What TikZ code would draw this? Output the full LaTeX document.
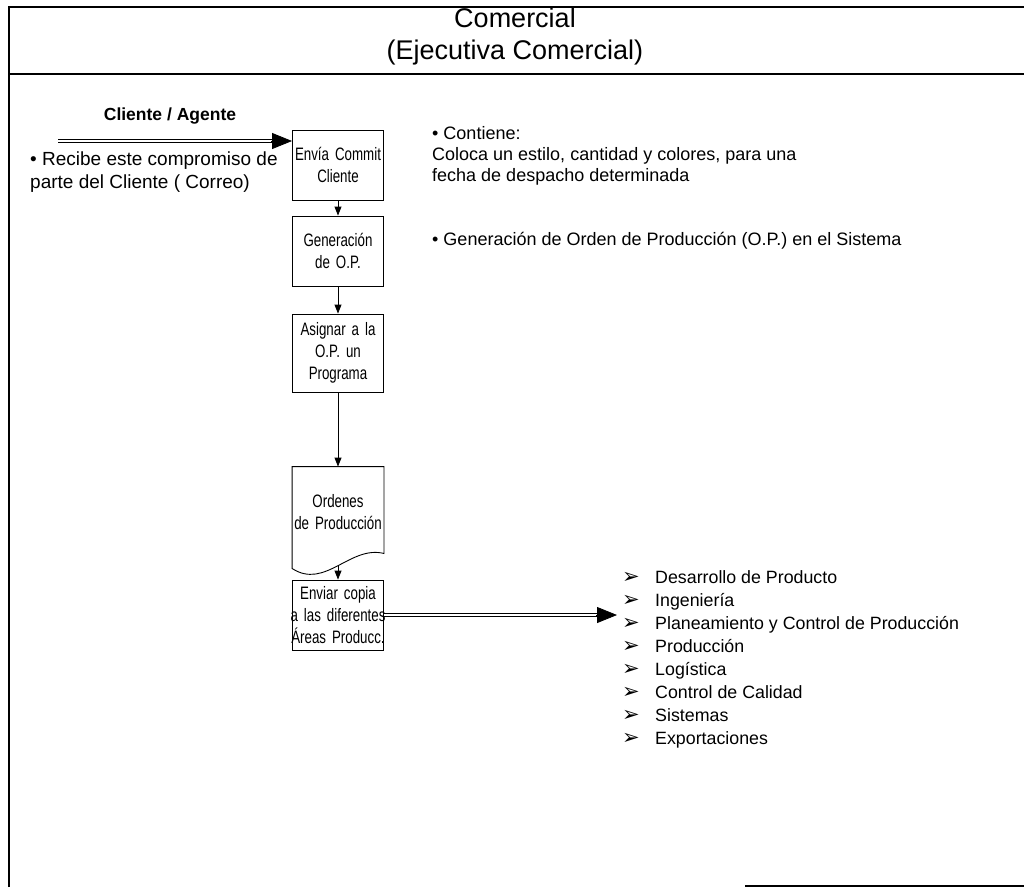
\documentclass[tikz,border=0pt]{standalone}
\usepackage{fontspec}
\setmainfont{Liberation Sans}
\newfontfamily\narrowfont[FakeStretch=0.74]{Liberation Sans}
\newfontfamily\symfont{DejaVu Sans}
\usetikzlibrary{arrows.meta,calc}
\newcommand{\lstitem}[1]{\makebox[33pt][l]{\raisebox{-0.5pt}{\symfont\fontsize{21}{23}\selectfont ➢}}#1}
\begin{document}
\begin{tikzpicture}[x=1pt,y=-1pt,
  box/.style={draw, line width=0.9pt, minimum width=91pt, minimum height=70pt,
    text width=89pt, align=center, font=\narrowfont\fontsize{18}{22}\selectfont, inner sep=0pt},
  txt/.style={align=left, font=\fontsize{18}{21}\selectfont, inner sep=0pt},
  flow/.style={line width=0.9pt, -{Triangle[length=9pt,width=7pt]}},
  dbl/.style={double, double distance=2.2pt, line width=0.9pt},
  bigtip/.style={line width=0.8pt, -{Triangle[length=20pt,width=16pt]}}]
\useasboundingbox (0,0) rectangle (1024,887);

% frame and header band
\draw[line width=1.2pt] (9,887) -- (9,7) -- (1024,7);
\draw[line width=1.2pt] (9,74) -- (1024,74);
\draw[line width=1.2pt] (745,886) -- (1024,886);
\node[font=\fontsize{27}{32}\selectfont, align=center] (title) at (515,37)
  {Comercial\\(Ejecutiva Comercial)};

% process steps
\node[box] (b1) at (338,165) {Envía Commit\\Cliente};
\node[box] (b2) at (338,251) {Generación\\de O.P.};
\node[box, minimum height=78pt] (b3) at (338,353) {Asignar a la\\O.P. un\\Programa};
\node[box, draw=none, minimum height=90pt] (doc) at (338,512) {Ordenes\\\makebox[89pt]{de Producción}};
\draw[line width=0.9pt] (doc.north west) -- (doc.north east) -- ($(doc.south east)+(0,-4)$)
  .. controls (350,545) and (325,590) .. ($(doc.south west)+(0,11)$) -- cycle;
\node[box] (b5) at (338,615) {Enviar copia\\\makebox[89pt]{a las diferentes}\\\makebox[89pt]{Áreas Producc.}};

\draw[flow] (b1) -- (b2);
\draw[flow] (b2) -- (b3);
\draw[flow] (b3) -- (doc);
\draw[flow] ($(doc.south)+(0,9)$) -- (b5);

% incoming commitment
\coordinate (cA) at (58,141);
\coordinate (cAe) at (cA -| b1.west);
\node[font=\fontsize{17.5}{20}\selectfont\bfseries] (ag) at (170,116) {Cliente / Agente};
\draw[dbl] (cA) -- ($(cAe)+(-19,0)$);
\draw[bigtip] ($(cAe)+(-21,0)$) -- (cAe);
\node[txt, anchor=north west, font=\fontsize{19}{23}\selectfont] (rec) at (30,152)
  {• Recibe este compromiso de\\parte del Cliente ( Correo)};

% notes
\node[txt, anchor=north west] (cont) at (432,126)
  {• Contiene:\\Coloca un estilo, cantidad y colores, para una\\fecha de despacho determinada};
\node[txt, anchor=west] (gen) at (432,241)
  {• Generación de Orden de Producción (O.P.) en el Sistema};

% distribution to areas
\coordinate (cB) at (617,615);
\draw[dbl] (b5.east) -- ($(cB)+(-19,0)$);
\draw[bigtip] ($(cB)+(-21,0)$) -- (cB);
\node[align=left, anchor=north west, inner sep=0pt, font=\fontsize{17.8}{23}\selectfont] (areas) at (622,570)
  {\lstitem{Desarrollo de Producto}\\
   \lstitem{Ingeniería}\\
   \lstitem{Planeamiento y Control de Producción}\\
   \lstitem{Producción}\\
   \lstitem{Logística}\\
   \lstitem{Control de Calidad}\\
   \lstitem{Sistemas}\\
   \lstitem{Exportaciones}};
\end{tikzpicture}
\end{document}
